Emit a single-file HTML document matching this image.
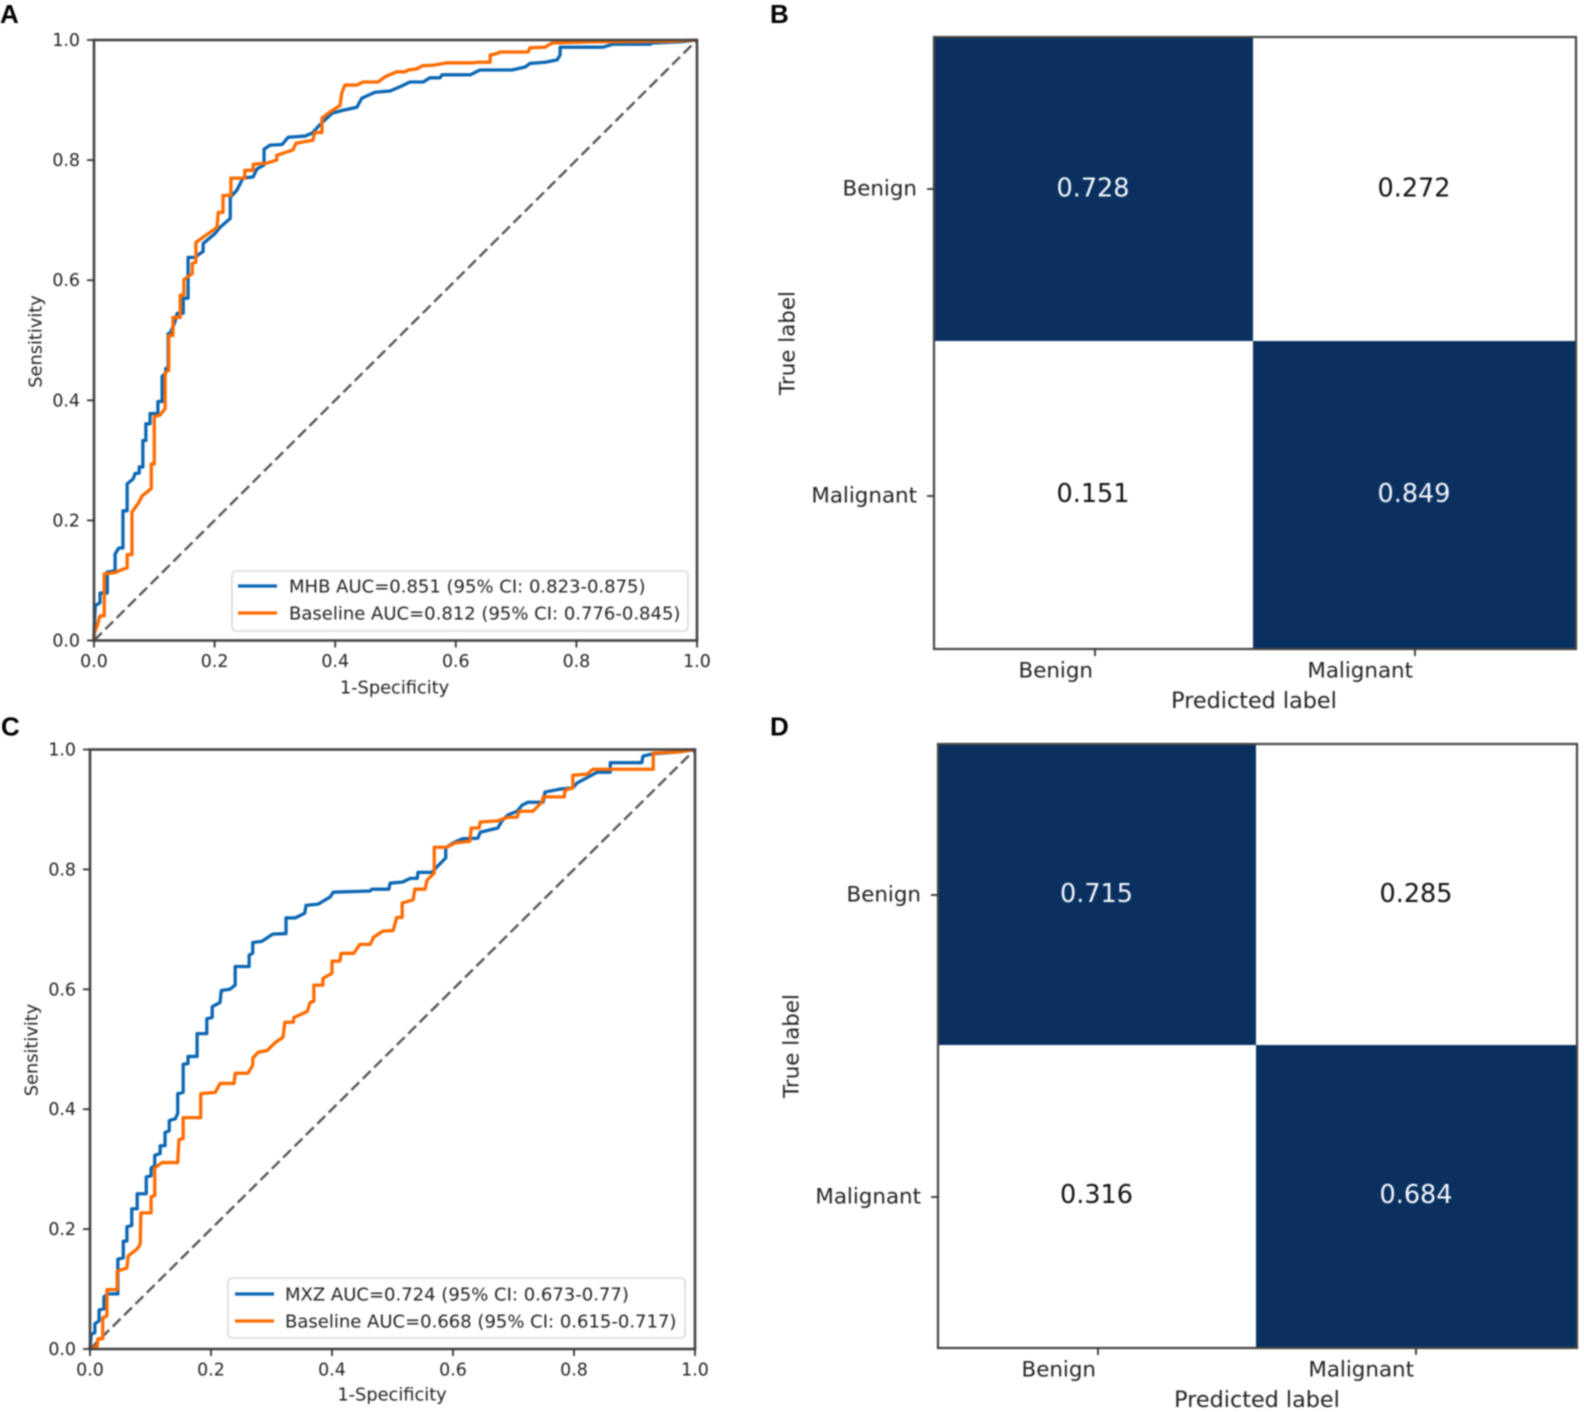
<!DOCTYPE html>
<html lang="en">
<head>
<meta charset="utf-8">
<title>ROC curves and confusion matrices</title>
<style>
html,body{margin:0;padding:0;background:#fff;}
#figure{display:block;width:1584px;height:1412px;filter:blur(0.8px);}
text{font-family:"DejaVu Sans","Liberation Sans",sans-serif;fill:#222;}
.letter{font-family:"Liberation Sans",sans-serif;font-weight:700;font-size:26px;fill:#000;}
.tick{font-size:17.4px;}
.title{font-size:17.8px;}
.legend{font-size:18px;}
.cmtick{font-size:21.4px;}
.cmtitle{font-size:22.3px;}
.cmval{font-size:25.5px;}
</style>
</head>
<body>
<svg id="figure" xmlns="http://www.w3.org/2000/svg" width="1584" height="1412" viewBox="0 0 1584 1412">
  <rect x="0" y="0" width="1584" height="1412" fill="#fff"/>

  <text class="letter" x="0" y="23">A</text>
  <text class="letter" x="770" y="23">B</text>
  <text class="letter" x="1" y="735.5">C</text>
  <text class="letter" x="770" y="735.5">D</text>

  <g id="roc-a"></g>
  <text class="title" x="394.5" y="688" text-anchor="middle" dominant-baseline="central">1-Specificity</text>
  <text class="title" transform="translate(36 341.5) rotate(-90)" text-anchor="middle" dominant-baseline="central">Sensitivity</text>
  <g>
    <rect x="232" y="571" width="456" height="60" rx="4" fill="#fff" fill-opacity="0.85" stroke="#d8d8d8" stroke-width="1.5"/>
    <line x1="238" y1="586" x2="277" y2="586" stroke="#0a66b2" stroke-width="3.2"/>
    <text class="legend" x="289" y="587" dominant-baseline="central">MHB AUC=0.851 (95% CI: 0.823-0.875)</text>
    <line x1="238" y1="613" x2="277" y2="613" stroke="#ff6a00" stroke-width="3.2"/>
    <text class="legend" x="289" y="614" dominant-baseline="central">Baseline AUC=0.812 (95% CI: 0.776-0.845)</text>
  </g>

  <g id="roc-c"></g>
  <text class="title" x="392" y="1395" text-anchor="middle" dominant-baseline="central">1-Specificity</text>
  <text class="title" transform="translate(32 1050) rotate(-90)" text-anchor="middle" dominant-baseline="central">Sensitivity</text>
  <g>
    <rect x="228" y="1278" width="457" height="60" rx="4" fill="#fff" fill-opacity="0.85" stroke="#d8d8d8" stroke-width="1.5"/>
    <line x1="235" y1="1294" x2="274" y2="1294" stroke="#0a66b2" stroke-width="3.2"/>
    <text class="legend" x="285" y="1295" dominant-baseline="central">MXZ AUC=0.724 (95% CI: 0.673-0.77)</text>
    <line x1="235" y1="1321" x2="274" y2="1321" stroke="#ff6a00" stroke-width="3.2"/>
    <text class="legend" x="285" y="1322" dominant-baseline="central">Baseline AUC=0.668 (95% CI: 0.615-0.717)</text>
  </g>

  <g id="cm-b"></g>
  <text class="cmtitle" x="1254" y="701" text-anchor="middle" dominant-baseline="central">Predicted label</text>
  <text class="cmtick" transform="translate(788 343) rotate(-90)" text-anchor="middle" dominant-baseline="central">True label</text>

  <g id="cm-d"></g>
  <text class="cmtitle" x="1257" y="1400" text-anchor="middle" dominant-baseline="central">Predicted label</text>
  <text class="cmtick" transform="translate(792 1046) rotate(-90)" text-anchor="middle" dominant-baseline="central">True label</text>
</svg>

<script>
// ROC panel A values
var tickLabels = ['0.0', '0.2', '0.4', '0.6', '0.8', '1.0'];
var mhbFpr = [0,0,.002,.010,.010,.022,.022,.035,.035,.041,.048,.048,.055,.055,.065,.068,.075,.075,.081,.081,.086,.086,.093,.093,.106,.106,.113,.113,.119,.119,.123,.123,.126,.134,.138,.148,.148,.156,.156,.167,.181,.181,.201,.209,.226,.226,.237,.247,.264,.270,.282,.282,.292,.312,.322,.350,.362,.371,.383,.395,.413,.436,.444,.466,.491,.507,.524,.546,.557,.574,.577,.624,.640,.693,.715,.723,.748,.768,.773,.773,.844,.861,.922,.927,.972,1];
var mhbTpr = [0,.011,.058,.063,.079,.079,.114,.116,.144,.154,.154,.216,.216,.261,.269,.278,.279,.289,.289,.333,.333,.361,.361,.378,.378,.398,.398,.440,.445,.453,.453,.511,.511,.530,.545,.545,.570,.570,.638,.638,.648,.661,.678,.688,.703,.738,.750,.770,.772,.785,.792,.818,.825,.826,.838,.840,.845,.855,.867,.878,.883,.888,.903,.913,.915,.922,.930,.930,.937,.937,.942,.942,.950,.950,.955,.961,.963,.967,.975,.988,.988,.993,.993,.995,.997,1];
var baseAFpr = [0,0,.005,.010,.017,.017,.035,.046,.055,.055,.063,.063,.073,.080,.095,.095,.100,.100,.109,.118,.118,.124,.124,.131,.131,.143,.143,.149,.149,.163,.163,.169,.169,.204,.206,.214,.214,.227,.227,.250,.250,.264,.264,.287,.303,.303,.330,.335,.363,.366,.378,.378,.391,.408,.411,.416,.436,.446,.471,.483,.502,.516,.521,.536,.544,.562,.585,.629,.635,.657,.657,.670,.673,.720,.723,.748,.760,.828,.960,1];
var baseATpr = [0,.011,.024,.041,.041,.111,.113,.118,.121,.143,.143,.214,.228,.241,.253,.294,.294,.373,.375,.386,.446,.450,.508,.508,.538,.538,.575,.575,.601,.611,.628,.630,.663,.688,.713,.713,.741,.741,.770,.770,.783,.783,.793,.795,.800,.808,.817,.828,.833,.846,.846,.870,.880,.891,.912,.925,.925,.930,.930,.939,.947,.947,.950,.952,.957,.958,.962,.962,.963,.963,.975,.978,.980,.980,.987,.988,.995,.997,.998,1];

// ROC panel C values
var mxzFpr = [0,.002,.008,.008,.015,.015,.023,.023,.030,.046,.046,.055,.055,.061,.061,.069,.069,.078,.078,.093,.093,.101,.101,.107,.107,.116,.116,.124,.124,.131,.131,.141,.145,.145,.154,.154,.162,.162,.177,.177,.193,.193,.202,.202,.215,.217,.231,.240,.240,.263,.263,.269,.269,.284,.302,.324,.324,.339,.355,.357,.377,.397,.402,.463,.466,.494,.496,.517,.529,.541,.542,.565,.579,.588,.588,.600,.615,.641,.645,.674,.681,.691,.706,.714,.724,.749,.752,.777,.798,.805,.838,.860,.860,.912,.914,.931,.975,1];
var mxzTpr = [0,.025,.027,.042,.047,.065,.067,.087,.092,.092,.150,.152,.180,.180,.204,.206,.234,.234,.259,.259,.287,.289,.302,.306,.323,.326,.339,.339,.361,.364,.381,.384,.393,.426,.428,.475,.476,.488,.488,.526,.526,.551,.553,.571,.578,.598,.600,.607,.638,.638,.657,.660,.678,.680,.692,.693,.719,.719,.727,.740,.742,.754,.762,.764,.767,.767,.777,.779,.785,.785,.795,.795,.810,.819,.836,.844,.851,.852,.862,.869,.881,.891,.897,.907,.912,.912,.929,.934,.936,.944,.962,.962,.978,.978,.989,.993,.996,1];
var baseCFpr = [0,.012,.013,.021,.021,.028,.028,.045,.045,.061,.063,.078,.083,.084,.101,.101,.107,.107,.119,.145,.147,.154,.154,.183,.183,.207,.215,.238,.240,.261,.269,.269,.278,.293,.306,.319,.322,.336,.337,.359,.364,.370,.370,.385,.385,.400,.400,.413,.415,.436,.446,.463,.469,.484,.501,.507,.516,.516,.534,.537,.554,.557,.569,.569,.590,.603,.628,.630,.643,.645,.674,.691,.706,.709,.732,.747,.749,.784,.785,.798,.798,.822,.831,.931,.931,.975,1];
var baseCTpr = [0,.005,.017,.017,.052,.055,.099,.099,.130,.135,.155,.167,.175,.227,.227,.254,.256,.302,.311,.311,.349,.351,.386,.386,.426,.428,.443,.443,.460,.460,.473,.485,.495,.498,.511,.520,.545,.545,.553,.563,.578,.580,.607,.607,.618,.627,.647,.647,.660,.660,.675,.675,.687,.697,.698,.720,.720,.744,.749,.767,.767,.782,.794,.837,.837,.844,.847,.869,.869,.879,.881,.887,.887,.897,.897,.912,.921,.921,.932,.936,.957,.959,.967,.967,.994,.996,1];

// Confusion matrix values
var classLabels = ['Benign', 'Malignant'];
var matrixB = [[0.728, 0.272], [0.151, 0.849]];
var matrixD = [[0.715, 0.285], [0.316, 0.684]];

var NS = 'http://www.w3.org/2000/svg';
function make(parent, tag, attrs) {
  var el = document.createElementNS(NS, tag);
  for (var k in attrs) el.setAttribute(k, attrs[k]);
  parent.appendChild(el);
  return el;
}

function drawRoc(g, box, series) {
  var sx = function (v) { return box.left + v * (box.right - box.left); };
  var sy = function (v) { return box.bottom - v * (box.bottom - box.top); };
  var diag = make(g, 'line', {x1: sx(0), y1: sy(0), x2: sx(1), y2: sy(1), stroke: '#555', 'stroke-width': 2.4, 'stroke-dasharray': '11 5'});
  
  
  series.forEach(function (s) {
    var d = '';
    for (var i = 0; i < s.x.length; i++) d += (i ? 'L' : 'M') + sx(s.x[i]).toFixed(2) + ' ' + sy(s.y[i]).toFixed(2);
    var path = make(g, 'path', {d: d, fill: 'none', stroke: s.color, 'stroke-width': 3.3, 'stroke-linejoin': 'round'});
    
    
  });
  var frame = make(g, 'rect', {x: box.left, y: box.top, width: box.right - box.left, height: box.bottom - box.top, fill: 'none', stroke: '#444', 'stroke-width': 2.6});
  
  
  tickLabels.forEach(function (label) {
    var v = parseFloat(label);
    var tx = make(g, 'line', {x1: sx(v), x2: sx(v), y1: box.bottom, y2: box.bottom + 7, stroke: '#333', 'stroke-width': 1.8});
    
    
    var ty = make(g, 'line', {x1: box.left - 7, x2: box.left, y1: sy(v), y2: sy(v), stroke: '#333', 'stroke-width': 1.8});
    
    
    var lx = make(g, 'text', {x: sx(v), y: box.bottom + 21.5, 'text-anchor': 'middle', 'dominant-baseline': 'central', 'class': 'tick'});
    lx.textContent = label;
    
    
    var ly = make(g, 'text', {x: box.left - 14, y: sy(v) + 1, 'text-anchor': 'end', 'dominant-baseline': 'central', 'class': 'tick'});
    ly.textContent = label;
    
    
  });
}

function drawMatrix(g, box, matrix) {
  var xs = [box.left, box.midX, box.right];
  var ys = [box.top, box.midY, box.bottom];
  var cx = [box.colCenter0, box.colCenter1];
  var cy = [box.rowCenter0, box.rowCenter1];
  matrix.forEach(function (row, r) {
    row.forEach(function (value, c) {
      var cell = make(g, 'rect', {x: xs[c], y: ys[r], width: xs[c + 1] - xs[c], height: ys[r + 1] - ys[r], fill: value > 0.5 ? '#0a3060' : '#ffffff'});
      
      
    });
  });
  var frame = make(g, 'rect', {x: box.left, y: box.top, width: box.right - box.left, height: box.bottom - box.top, fill: 'none', stroke: '#444', 'stroke-width': 2.2});
  
  
  matrix.forEach(function (row, r) {
    row.forEach(function (value, c) {
      var t = make(g, 'text', {x: cx[c], y: cy[r], 'text-anchor': 'middle', 'dominant-baseline': 'central', 'class': 'cmval'});
      t.textContent = value.toFixed(3);
      t.style.fill = value > 0.5 ? '#f4f8fc' : '#111';
      
      
    });
  });
  classLabels.forEach(function (label, i) {
    var ty = make(g, 'line', {x1: box.left - 7, x2: box.left, y1: box.rowTick[i], y2: box.rowTick[i], stroke: '#333', 'stroke-width': 1.8});
    
    
    var ly = make(g, 'text', {x: box.left - 17, y: box.rowTick[i], 'text-anchor': 'end', 'dominant-baseline': 'central', 'class': 'cmtick'});
    ly.textContent = label;
    
    
    var tx = make(g, 'line', {x1: box.colTick[i], x2: box.colTick[i], y1: box.bottom, y2: box.bottom + 7, stroke: '#333', 'stroke-width': 1.8});
    
    
    var lx = make(g, 'text', {x: box.colTick[i] - 2, y: box.bottom + 22, 'text-anchor': 'end', 'dominant-baseline': 'central', 'class': 'cmtick'});
    lx.textContent = label;
    
    
  });
}

drawRoc(document.getElementById('roc-a'), {left: 94, right: 697, top: 40, bottom: 640.5}, [
  {x: mhbFpr, y: mhbTpr, color: '#0a66b2', name: 'roc-curve-mhb'},
  {x: baseAFpr, y: baseATpr, color: '#ff6a00', name: 'roc-curve-baseline-a'}
]);
drawRoc(document.getElementById('roc-c'), {left: 90, right: 695, top: 749.5, bottom: 1349}, [
  {x: mxzFpr, y: mxzTpr, color: '#0a66b2', name: 'roc-curve-mxz'},
  {x: baseCFpr, y: baseCTpr, color: '#ff6a00', name: 'roc-curve-baseline-c'}
]);
drawMatrix(document.getElementById('cm-b'), {left: 934, midX: 1253, right: 1576, top: 37, midY: 341, bottom: 649, colCenter0: 1093, colCenter1: 1414, rowCenter0: 188.5, rowCenter1: 494, rowTick: [189, 496], colTick: [1095, 1415]}, matrixB);
drawMatrix(document.getElementById('cm-d'), {left: 938, midX: 1256, right: 1577, top: 744, midY: 1045, bottom: 1348, colCenter0: 1096.5, colCenter1: 1416, rowCenter0: 894, rowCenter1: 1195, rowTick: [895, 1197], colTick: [1098, 1416]}, matrixD);
</script>
</body>
</html>
